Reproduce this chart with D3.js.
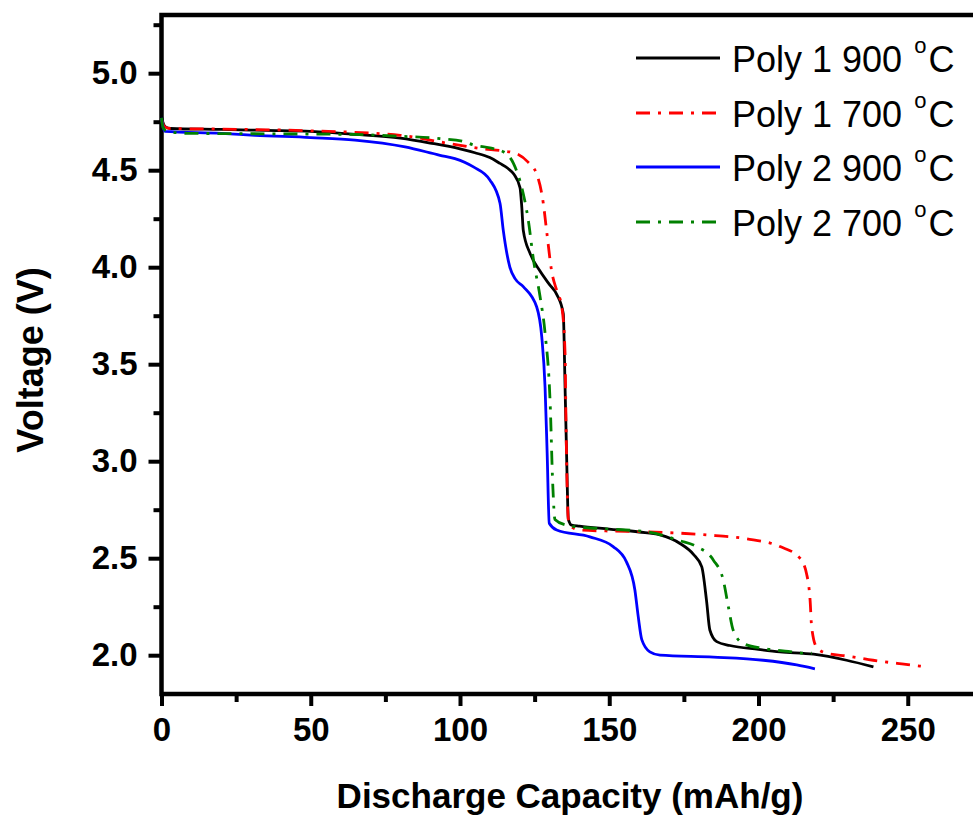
<!DOCTYPE html>
<html><head><meta charset="utf-8">
<script src="https://cdn.jsdelivr.net/npm/d3@7"></script>
<style>
html,body{margin:0;padding:0;background:#fff;}
svg{display:block;}
text{font-family:Arial,"Liberation Sans",sans-serif;}
</style></head>
<body>
<svg id="chart" width="973" height="818"></svg>
<script>
const xTicks = [0, 50, 100, 150, 200, 250];
const yTicks = [2.0, 2.5, 3.0, 3.5, 4.0, 4.5, 5.0];
const seriesNames = ["Poly 1 900 \u00B0C", "Poly 1 700 \u00B0C", "Poly 2 900 \u00B0C", "Poly 2 700 \u00B0C"];

const poly1_900 = [[0,4.78],[0.4,4.75],[1.2,4.725],[3,4.715],[20,4.71],[35,4.705],[50,4.70],[65,4.685],[80,4.665],[90,4.64],[100,4.61],[105,4.59],[110,4.565],[113.4,4.535],[116,4.51],[118,4.48],[120.1,4.41],[120.7,4.31],[121.2,4.19],[123.5,4.07],[126.8,3.98],[130,3.91],[132.4,3.86],[134.6,3.76],[135.2,3.38],[135.7,3.04],[136.3,2.70],[137.4,2.67],[140,2.665],[150,2.65],[160,2.635],[167,2.62],[173.7,2.576],[178.2,2.52],[181,2.455],[182.6,2.28],[183.7,2.13],[186,2.07],[190.4,2.05],[200,2.03],[207.2,2.017],[218.4,2.005],[229.5,1.974],[238.5,1.94]];
const poly1_700 = [[0,4.76],[1,4.725],[3,4.715],[20,4.712],[50,4.703],[80,4.68],[95.5,4.64],[107.8,4.61],[114,4.60],[119,4.585],[122.9,4.54],[125.7,4.48],[127.9,4.33],[129,4.19],[130.7,3.98],[132.4,3.88],[134.1,3.795],[135.2,3.555],[135.5,3.21],[136.3,2.70],[137.5,2.66],[140.2,2.645],[150,2.64],[162.5,2.636],[182.6,2.62],[196,2.60],[207.2,2.56],[213.9,2.50],[216.1,2.42],[217.3,2.28],[217.8,2.146],[219.5,2.04],[222.8,2.01],[230,1.995],[238.4,1.974],[248,1.955],[256.2,1.94]];
const poly2_900 = [[0,4.77],[0.4,4.73],[1.2,4.70],[20,4.69],[31.3,4.68],[50,4.668],[64.8,4.655],[81.6,4.62],[93.3,4.577],[98.3,4.56],[104.5,4.517],[110,4.45],[113.4,4.33],[114.5,4.19],[116.7,4.0],[118.5,3.94],[121.2,3.90],[125.7,3.795],[127.4,3.64],[128.5,3.38],[129.2,3.04],[129.9,2.68],[132.4,2.645],[143.5,2.61],[151.3,2.56],[155.8,2.48],[158.6,2.335],[159.7,2.20],[160.9,2.08],[163.6,2.017],[167,2.0],[184.9,1.99],[201.6,1.974],[212.8,1.95],[218.9,1.93]];
const poly2_700 = [[0,4.77],[0.5,4.72],[2,4.70],[8.9,4.69],[30,4.688],[64.8,4.684],[80,4.675],[93.3,4.663],[101.6,4.646],[104.5,4.63],[110,4.615],[114.5,4.595],[117.9,4.535],[120.7,4.41],[122.9,4.24],[124.6,4.04],[126.8,3.85],[128.5,3.66],[130.2,3.30],[131.1,2.87],[131.8,2.70],[135.7,2.67],[140.2,2.66],[150,2.65],[162.5,2.636],[173.7,2.59],[179.3,2.56],[184.9,2.49],[188.2,2.387],[189.9,2.25],[191.5,2.13],[194.9,2.06],[201.6,2.035],[210,2.02],[216.1,2.01],[217.8,2.01]];

const seriesData = [poly1_900, poly1_700, poly2_900, poly2_700];
const seriesColors = ["#000000", "#ff0000", "#0000ff", "#008000"];
const seriesDash = [null, "14,8,3,8", null, "14,8,3,8"];

const svg = d3.select("#chart");
const plotLeft = 161.5, plotTop = 15, plotBottom = 694;
const x = d3.scaleLinear().domain([0, 280]).range([plotLeft, plotLeft + 280 * 2.985]);
const y = d3.scaleLinear().domain([1.8, 5.3]).range([plotBottom, plotTop]);

const xMinor = d3.range(25, 280, 50);
const yMinor = d3.range(2.25, 5.3, 0.5);

const gx = svg.append("g").attr("transform", `translate(0,${plotBottom})`);
gx.call(d3.axisBottom(x).tickValues(xMinor).tickSize(8).tickFormat(""));
gx.append("g").call(d3.axisBottom(x).tickValues(xTicks).tickSize(12).tickPadding(12).tickFormat(d3.format("d")));
const gy = svg.append("g").attr("transform", `translate(${plotLeft},0)`);
gy.call(d3.axisLeft(y).tickValues(yMinor).tickSize(8).tickFormat(""));
gy.append("g").call(d3.axisLeft(y).tickValues(yTicks).tickSize(13).tickPadding(11).tickFormat(d3.format(".1f")));
svg.selectAll(".domain").remove();
svg.selectAll(".tick line").attr("stroke", "#000").attr("stroke-width", 4);
svg.selectAll(".tick text").attr("fill", "#000").style("font-size", "33px").style("font-weight", "bold").style("font-family", "Arial, 'Liberation Sans', sans-serif");

svg.append("path")
  .attr("d", `M${x(280)},${plotTop}H${plotLeft}V${plotBottom}H${x(280)}`)
  .attr("fill", "none").attr("stroke", "#000").attr("stroke-width", 4.5);

const line = d3.line().x(d => x(d[0])).y(d => y(d[1])).curve(d3.curveMonotoneX);
seriesData.forEach((s, i) => {
  svg.append("path").datum(s)
    .attr("d", line)
    .attr("fill", "none")
    .attr("stroke", seriesColors[i])
    .attr("stroke-width", 2.8)
    .attr("stroke-linejoin", "round")
    .attr("stroke-dasharray", seriesDash[i]);
});

svg.append("text").attr("x", 570).attr("y", 808).attr("text-anchor", "middle")
  .style("font-size", "35px").style("font-weight", "bold").text("Discharge Capacity (mAh/g)");
svg.append("text").attr("transform", "translate(43,360) rotate(-90)").attr("text-anchor", "middle")
  .style("font-size", "36px").style("font-weight", "bold").text("Voltage (V)");

const legY = [58, 113, 167, 222];
seriesNames.forEach((name, i) => {
  svg.append("line").attr("x1", 636).attr("x2", 720).attr("y1", legY[i]).attr("y2", legY[i])
    .attr("stroke", seriesColors[i]).attr("stroke-width", 2.8).attr("stroke-dasharray", seriesDash[i]);
  const parts = name.split("\u00B0");
  const t = svg.append("text").attr("x", 732).attr("y", legY[i] + 14).style("font-size", "36px").attr("fill", "#000");
  t.append("tspan").text(parts[0]);
  t.append("tspan").attr("dx", 2).attr("dy", -19).style("font-size", "22px").text("o");
  t.append("tspan").attr("dx", 2).attr("dy", 19).text(parts[1]);
});
</script>
</body></html>
